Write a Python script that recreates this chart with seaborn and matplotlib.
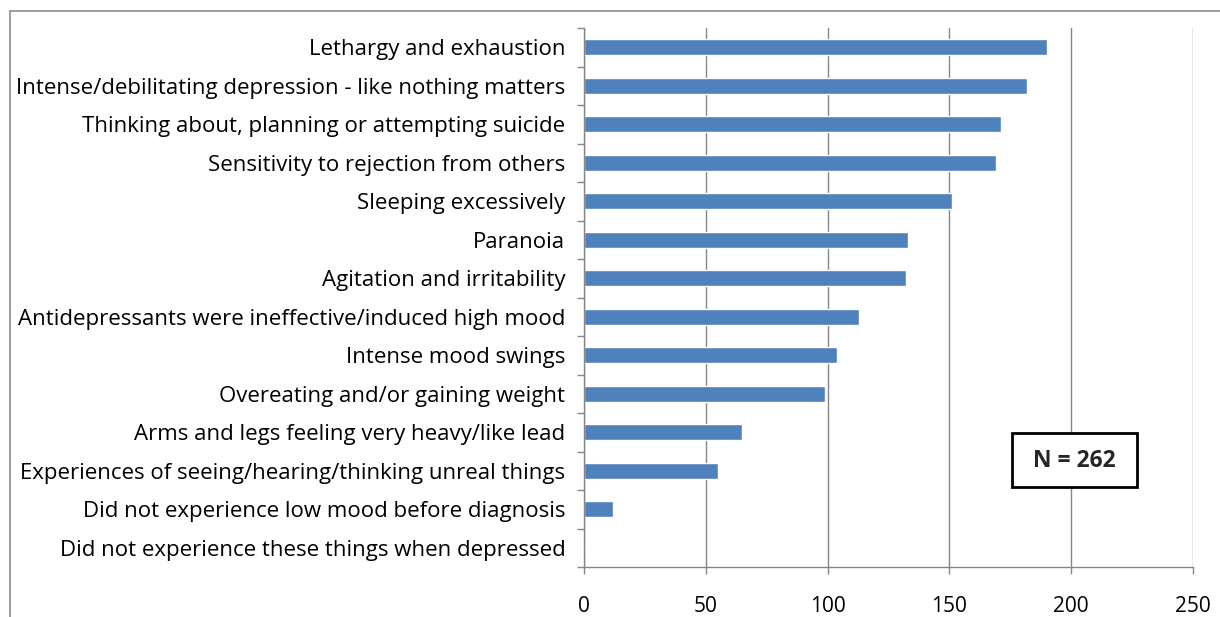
import matplotlib
matplotlib.use("Agg")
import matplotlib.pyplot as plt
import seaborn as sns
import pandas as pd
from matplotlib.patches import Rectangle
from matplotlib.ticker import FixedLocator

categories = [
    "Lethargy and exhaustion",
    "Intense/debilitating depression - like nothing matters",
    "Thinking about, planning or attempting suicide",
    "Sensitivity to rejection from others",
    "Sleeping excessively",
    "Paranoia",
    "Agitation and irritability",
    "Antidepressants were ineffective/induced high mood",
    "Intense mood swings",
    "Overeating and/or gaining weight",
    "Arms and legs feeling very heavy/like lead",
    "Experiences of seeing/hearing/thinking unreal things",
    "Did not experience low mood before diagnosis",
    "Did not experience these things when depressed",
]
counts = [190, 182, 171, 169, 151, 133, 132, 113, 104, 99, 65, 55, 12, 0]
x_ticks = [0, 50, 100, 150, 200, 250]
note_text = "N = 262"

sns.set_theme(style="white")
plt.rcParams['font.family'] = ['Open Sans', 'DejaVu Sans']

df = pd.DataFrame({"category": categories, "count": counts})

fig = plt.figure(figsize=(12.2, 6.17), dpi=100)
ax = fig.add_axes([584/1220, 1-567/617, (1193-584)/1220, (567-28)/617])

sns.barplot(data=df, x="count", y="category", order=categories, color="#4F81BD",
            saturation=1, width=0.42, ax=ax)

ax.set_xlim(0, 250)
ax.set_ylim(len(categories)-0.5, -0.5)
ax.set_xlabel("")
ax.set_ylabel("")
ax.xaxis.set_major_locator(FixedLocator(x_ticks))
ax.set_xticklabels([str(t) for t in x_ticks])
ax.grid(axis="x", color="#868686", linewidth=1)
ax.grid(axis="y", visible=False)
ax.set_axisbelow(True)

for s in ["top", "right"]:
    ax.spines[s].set_visible(False)
for s in ["left", "bottom"]:
    ax.spines[s].set_color("#868686")
    ax.spines[s].set_linewidth(1)

ax.tick_params(axis="y", which="major", length=0, pad=13.5, labelsize=16, labelcolor="black")
ax.yaxis.set_minor_locator(FixedLocator([i - 0.5 for i in range(len(categories)+1)]))
ax.tick_params(axis="y", which="minor", length=5, color="#868686", width=1, left=True)
ax.tick_params(axis="x", which="major", length=5, color="#868686", width=1, bottom=True,
               pad=16, labelsize=15, labelcolor="black")

# outer frame
fig.patches.append(Rectangle((10/1220, -0.1), 1.1, 1.1 - 11/617,
                             transform=fig.transFigure, fill=False,
                             edgecolor="#8c8c8c", linewidth=1.2))
# N box
fig.patches.append(Rectangle((1012/1220, 1-487/617), 125/1220, 54/617,
                             transform=fig.transFigure, fill=True, facecolor="white",
                             edgecolor="black", linewidth=2, zorder=5))
fig.text(1074.5/1220, 1-461/617, note_text, ha="center", va="center",
         fontsize=16.5, fontweight="bold", zorder=6)

fig.savefig("out.png", dpi=100)
